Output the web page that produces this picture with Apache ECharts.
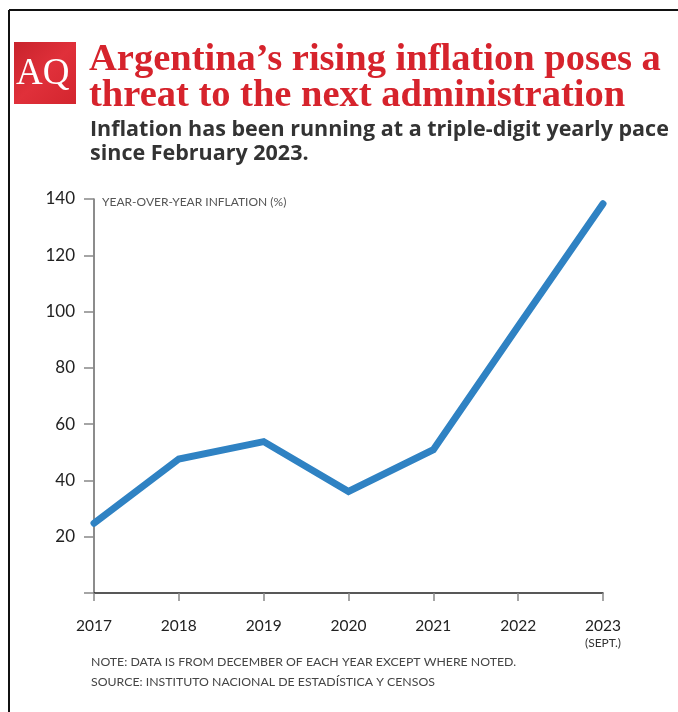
<!DOCTYPE html>
<html>
<head>
<meta charset="utf-8">
<script src="https://cdn.jsdelivr.net/npm/echarts@6/dist/echarts.min.js"></script>
<style>
html,body{margin:0;padding:0;background:#fff;}
#chart{width:678px;height:712px;}
</style>
</head>
<body>
<div id="chart"></div>
<script>
var years = ['2017','2018','2019','2020','2021','2022','2023'];
var inflation = [24.8, 47.6, 53.8, 36.1, 50.9, 94.8, 138.3];
var yTicks = [0, 20, 40, 60, 80, 100, 120, 140];

var chart = echarts.init(document.getElementById('chart'), null, {renderer:'canvas'});
var sans = 'Lato, "Open Sans", sans-serif';
chart.setOption({
  backgroundColor: '#ffffff',
  animation: false,
  grid: {left: 94, right: 75, top: 199, bottom: 119, containLabel: false},
  xAxis: {
    type: 'category',
    data: years,
    boundaryGap: false,
    axisLine: {lineStyle: {color: '#222', width: 1.5}},
    axisTick: {show: true, interval: 0, length: 8, lineStyle: {color: '#888', width: 1.5}},
    axisLabel: {
      interval: 0, margin: 24, color: '#222', fontSize: 15, fontFamily: sans,
      verticalAlign: 'top',
      formatter: function (v) { return v === '2023' ? '{a|2023}\n{b|(SEPT.)}' : '{a|' + v + '}'; },
      rich: {
        a: {fontSize: 15.5, color: '#222', fontFamily: sans, lineHeight: 18},
        b: {fontSize: 12, color: '#333', fontFamily: sans, lineHeight: 16}
      }
    },
    splitLine: {show: false}
  },
  yAxis: {
    type: 'value',
    min: yTicks[0], max: yTicks[yTicks.length - 1], interval: 20,
    axisLine: {show: true, lineStyle: {color: '#666', width: 1.5}},
    axisTick: {show: true, length: 10, inside: false, lineStyle: {color: '#888', width: 1.5}},
    axisLabel: {
      margin: 19, color: '#222', fontSize: 17, fontFamily: sans,
      formatter: function (v) { return v === 0 ? '' : String(v); }
    },
    splitLine: {show: false}
  },
  series: [{
    type: 'line',
    data: inflation,
    symbol: 'none',
    lineStyle: {color: '#2f82c3', width: 7, cap: 'round', join: 'miter'}
  }],
  graphic: [
    {type: 'line', shape: {x1: 9, y1: 10, x2: 678, y2: 10}, style: {stroke: '#111', lineWidth: 2}},
    {type: 'line', shape: {x1: 9, y1: 10, x2: 9, y2: 712}, style: {stroke: '#111', lineWidth: 2}},
    {type: 'rect', shape: {x: 14, y: 42, width: 62, height: 62}, style: {fill: new echarts.graphic.LinearGradient(0, 0, 1, 1, [{offset: 0, color: '#c8232c'}, {offset: 0.5, color: '#e0303a'}, {offset: 1, color: '#d3252e'}])}},
    {type: 'text', left: 16, top: 56, style: {text: 'AQ', fill: '#fff', font: '37px "Liberation Serif", serif'}},
    {type: 'text', left: 89, top: 41, style: {text: 'Argentina\u2019s rising inflation poses a', fill: '#d6232c', font: 'bold 38.5px "Liberation Serif", serif'}},
    {type: 'text', left: 89, top: 77, style: {text: 'threat to the next administration', fill: '#d6232c', font: 'bold 38.5px "Liberation Serif", serif'}},
    {type: 'text', left: 90, top: 119, style: {text: 'Inflation has been running at a triple-digit yearly pace', fill: '#333', font: 'bold 21.5px "Open Sans", sans-serif'}},
    {type: 'text', left: 90, top: 143, style: {text: 'since February 2023.', fill: '#333', font: 'bold 21.5px "Open Sans", sans-serif'}},
    {type: 'text', left: 102, top: 196, style: {text: 'YEAR-OVER-YEAR INFLATION (%)', fill: '#555', font: '12px Lato, sans-serif'}},
    {type: 'text', left: 91, top: 656, style: {text: 'NOTE: DATA IS FROM DECEMBER OF EACH YEAR EXCEPT WHERE NOTED.', fill: '#444', font: '12.3px Lato, sans-serif'}},
    {type: 'text', left: 91, top: 676, style: {text: 'SOURCE: INSTITUTO NACIONAL DE ESTAD\u00cdSTICA Y CENSOS', fill: '#444', font: '12.3px Lato, sans-serif'}}
  ]
});
</script>
</body>
</html>
